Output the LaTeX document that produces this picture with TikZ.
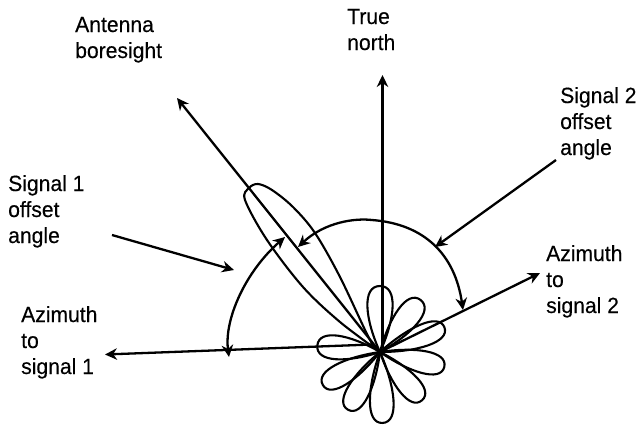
\documentclass[tikz,border=0pt]{standalone}
\usepackage{fontspec}
\setmainfont[FakeStretch=0.96,FakeBold=0.25]{Liberation Sans}
\usetikzlibrary{arrows.meta,calc}
\tikzset{
  line/.style={line width=2.3pt,black},
  thin line/.style={line width=2.1pt,black,line join=round},
  arr/.style={-{Stealth[length=12pt,width=11.5pt]}},
  twoarr/.style={{Stealth[length=12pt,width=11.5pt]}-{Stealth[length=12pt,width=11.5pt]}},
  lab/.style={inner sep=0pt,anchor=base west,align=left,font=\fontsize{22}{26}\selectfont}
}
\newcommand{\lobepetal}[3]{% angle, length, half-control width
  \draw[thin line,rotate around={#1:(C)}]
    (C) .. controls ($(C)+(0.5*#2,0.95*#3)$) and ($(C)+(#2,1.15*#3)$) .. ($(C)+(#2,0)$)
        .. controls ($(C)+(#2,-1.15*#3)$) and ($(C)+(0.5*#2,-0.95*#3)$) .. (C);
}
\begin{document}
\begin{tikzpicture}[x=1pt,y=-1pt]
\useasboundingbox (0,0) rectangle (637,424);
\coordinate (C) at (380,352);
\coordinate (Cnorth) at (382.5,348);
\coordinate (Caz) at (372,344.5);
\coordinate (bore) at (177,98);
\coordinate (north) at (382.5,75);
\coordinate (az1) at (105,354.5);
\coordinate (az2) at (540,273);
\coordinate (s1a) at (112,235);
\coordinate (s1b) at (234,270);
\coordinate (s2a) at (556,160);
\coordinate (s2b) at (435,247);
% text
\node[lab] (tboresight) at (75,58) {Antenna\\boresight};
\node[lab] (tnorth) at (347,50) {True\\north};
\node[lab] (tsig2) at (560,155) {Signal 2\\offset\\angle};
\node[lab] (taz2) at (546,313) {Azimuth\\to\\signal 2};
\node[lab] (tsig1) at (8,243) {Signal 1\\offset\\angle};
\node[lab] (taz1) at (21,374) {Azimuth\\to\\signal 1};
% axes
\draw[line,arr] (C) -- (bore);
\draw[line,arr] (Cnorth) -- (north);
\draw[line,arr] (Caz) -- (az1);
\draw[line,arr] (C) -- (az2);
\draw[line,arr] (s1a) -- (s1b);
\draw[line,arr] (s2a) -- (s2b);
% offset arcs
\draw[line,twoarr] (229,357) .. controls (224,320) and (245,272) .. (285,237);
\draw[line,twoarr] (298,247) .. controls (325,222) and (355,218) .. (372,220)
   .. controls (425,224) and (455,255) .. (463,310);
% lobes
\lobepetal{90}{66}{16}
\lobepetal{52}{66}{15}
\lobepetal{21}{69}{14}
\lobepetal{-13}{66}{14}
\lobepetal{-49}{64}{14}
\lobepetal{-88}{71}{15}
\lobepetal{-119}{66}{14}
\lobepetal{-150}{66}{14}
\lobepetal{174}{63}{15}
% main lobe
\draw[thin line] plot[smooth,tension=0.55] coordinates
  {(C) (340,322) (303,287) (267,240) (245,200) (249,188) (258,184) (272,190) (293,207) (315,233) (340,277) (370,340) (C)};
\end{tikzpicture}
\end{document}
